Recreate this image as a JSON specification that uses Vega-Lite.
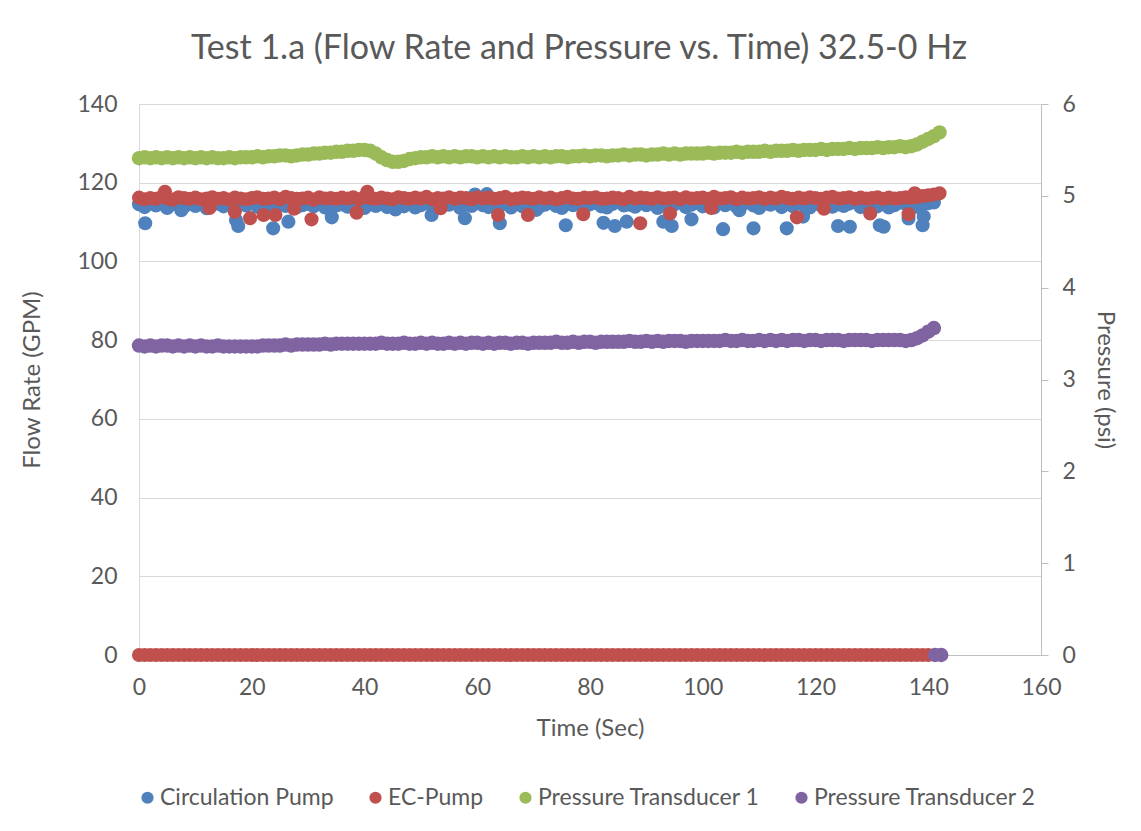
{
"$schema": "https://vega.github.io/schema/vega-lite/v6.json",
"width": 902,
"height": 551,
"autosize": "none",
"padding": {"left": 139, "top": 104, "right": 100, "bottom": 176},
"background": "white",
"title": {"text": "Test 1.a (Flow Rate and Pressure vs. Time) 32.5-0 Hz", "font": "Lato", "fontSize": 34, "fontWeight": "normal", "color": "#595959", "offset": 27, "dx": -11},
"config": {
  "view": {"stroke": null},
  "axis": {"labelFont": "Lato", "labelFontSize": 23, "labelColor": "#595959", "titleFont": "Lato", "titleFontSize": 24, "titleFontWeight": "normal", "titleColor": "#595959", "labelFlush": false},
  "legend": {"labelFont": "Lato", "labelFontSize": 23, "labelColor": "#595959", "labelLimit": 0, "symbolType": "circle", "symbolSize": 150, "orient": "none", "legendX": -3, "legendY": 682, "direction": "horizontal", "columnPadding": 30, "labelOffset": 1}
},
"data": {"values": [
{"t":0,"cp":114.5,"ec":116.2,"p1":5.41,"p2":3.37},
{"t":1,"cp":113.8,"ec":115.8,"p1":5.42,"p2":3.36},
{"t":2,"cp":114.9,"ec":116.1,"p1":5.41,"p2":3.37},
{"t":3,"cp":114.2,"ec":115.9,"p1":5.42,"p2":3.36},
{"t":4,"cp":115.2,"ec":116.4,"p1":5.41,"p2":3.37},
{"t":5,"cp":113.6,"ec":116.0,"p1":5.42,"p2":3.37},
{"t":6,"cp":114.6,"ec":115.7,"p1":5.41,"p2":3.36},
{"t":7,"cp":114.3,"ec":116.3,"p1":5.42,"p2":3.37},
{"t":8,"cp":113.9,"ec":116.1,"p1":5.41,"p2":3.36},
{"t":9,"cp":115.0,"ec":115.9,"p1":5.42,"p2":3.37},
{"t":10,"cp":114.1,"ec":116.2,"p1":5.41,"p2":3.36},
{"t":11,"cp":114.8,"ec":115.8,"p1":5.42,"p2":3.37},
{"t":12,"cp":113.5,"ec":116.0,"p1":5.41,"p2":3.36},
{"t":13,"cp":114.4,"ec":116.3,"p1":5.42,"p2":3.36},
{"t":14,"cp":114.7,"ec":115.9,"p1":5.41,"p2":3.37},
{"t":15,"cp":114.0,"ec":116.1,"p1":5.41,"p2":3.36},
{"t":16,"cp":115.1,"ec":115.7,"p1":5.42,"p2":3.36},
{"t":17,"cp":113.7,"ec":116.2,"p1":5.41,"p2":3.36},
{"t":18,"cp":114.5,"ec":116.0,"p1":5.42,"p2":3.36},
{"t":19,"cp":114.2,"ec":115.8,"p1":5.42,"p2":3.36},
{"t":20,"cp":114.9,"ec":116.1,"p1":5.42,"p2":3.36},
{"t":21,"cp":113.9,"ec":116.3,"p1":5.43,"p2":3.36},
{"t":22,"cp":114.4,"ec":115.9,"p1":5.42,"p2":3.37},
{"t":23,"cp":115.0,"ec":116.0,"p1":5.43,"p2":3.37},
{"t":24,"cp":113.6,"ec":116.2,"p1":5.43,"p2":3.37},
{"t":25,"cp":114.7,"ec":115.8,"p1":5.44,"p2":3.37},
{"t":26,"cp":114.1,"ec":116.4,"p1":5.44,"p2":3.38},
{"t":27,"cp":115.2,"ec":116.1,"p1":5.43,"p2":3.37},
{"t":28,"cp":113.8,"ec":115.9,"p1":5.44,"p2":3.38},
{"t":29,"cp":114.3,"ec":116.0,"p1":5.45,"p2":3.38},
{"t":30,"cp":114.6,"ec":116.2,"p1":5.45,"p2":3.38},
{"t":31,"cp":114.0,"ec":115.7,"p1":5.46,"p2":3.38},
{"t":32,"cp":115.1,"ec":116.3,"p1":5.46,"p2":3.38},
{"t":33,"cp":113.7,"ec":116.0,"p1":5.47,"p2":3.39},
{"t":34,"cp":114.8,"ec":116.1,"p1":5.47,"p2":3.38},
{"t":35,"cp":114.2,"ec":115.9,"p1":5.48,"p2":3.39},
{"t":36,"cp":114.5,"ec":116.2,"p1":5.48,"p2":3.39},
{"t":37,"cp":113.9,"ec":116.0,"p1":5.49,"p2":3.39},
{"t":38,"cp":115.0,"ec":116.3,"p1":5.49,"p2":3.39},
{"t":39,"cp":114.4,"ec":115.8,"p1":5.50,"p2":3.39},
{"t":40,"cp":113.6,"ec":116.4,"p1":5.50,"p2":3.39},
{"t":41,"cp":114.7,"ec":116.1,"p1":5.49,"p2":3.39},
{"t":42,"cp":114.1,"ec":115.9,"p1":5.46,"p2":3.39},
{"t":43,"cp":114.9,"ec":116.2,"p1":5.42,"p2":3.40},
{"t":44,"cp":113.8,"ec":116.0,"p1":5.39,"p2":3.39},
{"t":45,"cp":114.5,"ec":115.8,"p1":5.37,"p2":3.39},
{"t":46,"cp":115.2,"ec":116.3,"p1":5.37,"p2":3.39},
{"t":47,"cp":114.0,"ec":116.1,"p1":5.38,"p2":3.40},
{"t":48,"cp":114.6,"ec":115.9,"p1":5.40,"p2":3.39},
{"t":49,"cp":113.7,"ec":116.2,"p1":5.41,"p2":3.39},
{"t":50,"cp":114.3,"ec":116.0,"p1":5.42,"p2":3.40},
{"t":51,"cp":115.0,"ec":116.4,"p1":5.42,"p2":3.39},
{"t":52,"cp":114.2,"ec":115.8,"p1":5.43,"p2":3.40},
{"t":53,"cp":113.9,"ec":116.1,"p1":5.42,"p2":3.39},
{"t":54,"cp":114.8,"ec":116.0,"p1":5.43,"p2":3.39},
{"t":55,"cp":114.4,"ec":116.3,"p1":5.42,"p2":3.40},
{"t":56,"cp":115.1,"ec":115.9,"p1":5.43,"p2":3.39},
{"t":57,"cp":113.6,"ec":116.2,"p1":5.42,"p2":3.40},
{"t":58,"cp":114.5,"ec":116.1,"p1":5.43,"p2":3.39},
{"t":59,"cp":114.1,"ec":115.8,"p1":5.43,"p2":3.40},
{"t":60,"cp":115.0,"ec":116.3,"p1":5.42,"p2":3.40},
{"t":61,"cp":114.3,"ec":116.0,"p1":5.43,"p2":3.39},
{"t":62,"cp":113.8,"ec":116.2,"p1":5.42,"p2":3.40},
{"t":63,"cp":114.9,"ec":115.9,"p1":5.43,"p2":3.39},
{"t":64,"cp":114.2,"ec":116.1,"p1":5.42,"p2":3.40},
{"t":65,"cp":114.6,"ec":116.4,"p1":5.43,"p2":3.40},
{"t":66,"cp":113.7,"ec":115.8,"p1":5.42,"p2":3.39},
{"t":67,"cp":115.1,"ec":116.0,"p1":5.42,"p2":3.40},
{"t":68,"cp":114.0,"ec":116.2,"p1":5.43,"p2":3.40},
{"t":69,"cp":114.5,"ec":116.1,"p1":5.42,"p2":3.39},
{"t":70,"cp":114.8,"ec":115.9,"p1":5.43,"p2":3.40},
{"t":71,"cp":113.9,"ec":116.3,"p1":5.42,"p2":3.40},
{"t":72,"cp":114.4,"ec":116.0,"p1":5.43,"p2":3.40},
{"t":73,"cp":115.2,"ec":116.2,"p1":5.42,"p2":3.40},
{"t":74,"cp":114.1,"ec":115.8,"p1":5.43,"p2":3.41},
{"t":75,"cp":113.6,"ec":116.1,"p1":5.43,"p2":3.40},
{"t":76,"cp":114.7,"ec":116.4,"p1":5.42,"p2":3.40},
{"t":77,"cp":114.3,"ec":116.0,"p1":5.43,"p2":3.41},
{"t":78,"cp":115.0,"ec":115.9,"p1":5.43,"p2":3.40},
{"t":79,"cp":113.8,"ec":116.2,"p1":5.44,"p2":3.41},
{"t":80,"cp":114.5,"ec":116.1,"p1":5.43,"p2":3.41},
{"t":81,"cp":114.9,"ec":116.3,"p1":5.44,"p2":3.40},
{"t":82,"cp":114.0,"ec":115.9,"p1":5.44,"p2":3.41},
{"t":83,"cp":113.7,"ec":116.0,"p1":5.43,"p2":3.41},
{"t":84,"cp":114.6,"ec":116.2,"p1":5.44,"p2":3.41},
{"t":85,"cp":115.1,"ec":116.1,"p1":5.44,"p2":3.41},
{"t":86,"cp":114.2,"ec":115.8,"p1":5.45,"p2":3.41},
{"t":87,"cp":114.4,"ec":116.4,"p1":5.44,"p2":3.42},
{"t":88,"cp":113.9,"ec":116.0,"p1":5.45,"p2":3.41},
{"t":89,"cp":114.8,"ec":116.2,"p1":5.45,"p2":3.41},
{"t":90,"cp":114.3,"ec":116.1,"p1":5.44,"p2":3.42},
{"t":91,"cp":115.0,"ec":115.9,"p1":5.45,"p2":3.41},
{"t":92,"cp":113.6,"ec":116.3,"p1":5.45,"p2":3.42},
{"t":93,"cp":114.7,"ec":116.0,"p1":5.46,"p2":3.41},
{"t":94,"cp":114.1,"ec":116.1,"p1":5.45,"p2":3.42},
{"t":95,"cp":114.5,"ec":116.2,"p1":5.46,"p2":3.42},
{"t":96,"cp":115.2,"ec":115.8,"p1":5.45,"p2":3.42},
{"t":97,"cp":113.8,"ec":116.3,"p1":5.46,"p2":3.41},
{"t":98,"cp":114.4,"ec":116.0,"p1":5.46,"p2":3.42},
{"t":99,"cp":114.9,"ec":116.1,"p1":5.46,"p2":3.42},
{"t":100,"cp":114.0,"ec":116.2,"p1":5.46,"p2":3.42},
{"t":101,"cp":114.6,"ec":115.9,"p1":5.47,"p2":3.42},
{"t":102,"cp":113.7,"ec":116.4,"p1":5.46,"p2":3.42},
{"t":103,"cp":115.1,"ec":116.0,"p1":5.47,"p2":3.42},
{"t":104,"cp":114.3,"ec":116.1,"p1":5.47,"p2":3.43},
{"t":105,"cp":114.8,"ec":116.3,"p1":5.47,"p2":3.42},
{"t":106,"cp":113.9,"ec":115.8,"p1":5.48,"p2":3.42},
{"t":107,"cp":114.5,"ec":116.2,"p1":5.47,"p2":3.43},
{"t":108,"cp":115.0,"ec":116.0,"p1":5.48,"p2":3.42},
{"t":109,"cp":114.2,"ec":116.1,"p1":5.48,"p2":3.42},
{"t":110,"cp":113.6,"ec":116.3,"p1":5.48,"p2":3.43},
{"t":111,"cp":114.7,"ec":115.9,"p1":5.49,"p2":3.42},
{"t":112,"cp":114.4,"ec":116.2,"p1":5.48,"p2":3.43},
{"t":113,"cp":115.1,"ec":116.0,"p1":5.49,"p2":3.42},
{"t":114,"cp":113.8,"ec":116.4,"p1":5.49,"p2":3.43},
{"t":115,"cp":114.6,"ec":116.1,"p1":5.49,"p2":3.42},
{"t":116,"cp":114.0,"ec":115.9,"p1":5.50,"p2":3.43},
{"t":117,"cp":114.9,"ec":116.2,"p1":5.49,"p2":3.43},
{"t":118,"cp":114.3,"ec":116.0,"p1":5.50,"p2":3.42},
{"t":119,"cp":113.7,"ec":116.3,"p1":5.50,"p2":3.43},
{"t":120,"cp":114.8,"ec":116.1,"p1":5.50,"p2":3.43},
{"t":121,"cp":114.2,"ec":115.9,"p1":5.51,"p2":3.42},
{"t":122,"cp":115.0,"ec":116.2,"p1":5.50,"p2":3.43},
{"t":123,"cp":113.9,"ec":116.4,"p1":5.51,"p2":3.43},
{"t":124,"cp":114.5,"ec":116.0,"p1":5.51,"p2":3.43},
{"t":125,"cp":114.1,"ec":116.1,"p1":5.51,"p2":3.42},
{"t":126,"cp":114.7,"ec":116.3,"p1":5.52,"p2":3.43},
{"t":127,"cp":115.2,"ec":115.9,"p1":5.51,"p2":3.43},
{"t":128,"cp":113.8,"ec":116.2,"p1":5.52,"p2":3.43},
{"t":129,"cp":114.4,"ec":116.0,"p1":5.52,"p2":3.43},
{"t":130,"cp":114.6,"ec":116.1,"p1":5.52,"p2":3.42},
{"t":131,"cp":114.0,"ec":116.3,"p1":5.53,"p2":3.43},
{"t":132,"cp":114.9,"ec":115.9,"p1":5.52,"p2":3.43},
{"t":133,"cp":113.7,"ec":116.2,"p1":5.53,"p2":3.43},
{"t":134,"cp":114.3,"ec":116.0,"p1":5.53,"p2":3.43},
{"t":135,"cp":115.0,"ec":116.1,"p1":5.54,"p2":3.43},
{"t":136,"cp":114.5,"ec":116.3,"p1":5.53,"p2":3.42},
{"t":137,"cp":114.2,"ec":116.2,"p1":5.54,"p2":3.43},
{"t":138,"cp":113.9,"ec":116.4,"p1":5.56,"p2":3.45},
{"t":139,"cp":114.6,"ec":116.6,"p1":5.59,"p2":3.48},
{"t":140,"cp":114.8,"ec":116.8,"p1":5.62,"p2":3.52},
{"t":141,"cp":115.0,"ec":117.0,"p1":5.65,"p2":3.56},
{"t":142,"ec":117.3,"p1":5.69},
{"t":1.1,"cp":109.7},{"t":17.2,"cp":110.5},{"t":17.6,"cp":109.0},{"t":23.8,"cp":108.4},{"t":26.5,"cp":110.1},
{"t":34.2,"cp":111.2},{"t":51.9,"cp":111.8},{"t":57.8,"cp":111.0},{"t":64.0,"cp":109.7},{"t":59.6,"cp":117.0},
{"t":61.7,"cp":117.1},{"t":75.7,"cp":109.2},{"t":82.4,"cp":109.8},{"t":84.4,"cp":109.0},{"t":86.5,"cp":110.1},
{"t":93.0,"cp":110.1},{"t":94.5,"cp":109.0},{"t":98.0,"cp":110.7},{"t":103.6,"cp":108.2},{"t":109.0,"cp":108.4},
{"t":114.9,"cp":108.4},{"t":117.8,"cp":111.4},{"t":124.0,"cp":109.0},{"t":126.1,"cp":108.8},{"t":131.4,"cp":109.2},
{"t":132.1,"cp":108.8},{"t":136.5,"cp":110.9},{"t":139.0,"cp":109.2},{"t":139.2,"cp":111.4},{"t":7.5,"cp":113.0},
{"t":45.5,"cp":113.2},{"t":70.5,"cp":113.1},{"t":106.5,"cp":113.0},
{"t":4.6,"ec":117.7},{"t":17.0,"ec":112.6},{"t":19.7,"ec":111.0},{"t":22.1,"ec":111.8},{"t":24.2,"ec":111.8},
{"t":30.6,"ec":110.7},{"t":38.6,"ec":112.4},{"t":40.5,"ec":117.7},{"t":63.7,"ec":111.8},{"t":69.0,"ec":111.8},
{"t":78.8,"ec":112.0},{"t":88.9,"ec":109.7},{"t":94.2,"ec":112.2},{"t":116.7,"ec":111.2},{"t":129.7,"ec":112.2},
{"t":136.5,"ec":112.0},{"t":137.6,"ec":117.3},{"t":12.5,"ec":113.6},{"t":27.5,"ec":113.4},{"t":53.5,"ec":113.5},
{"t":101.5,"ec":113.6},{"t":121.5,"ec":113.4},
{"t":0,"ec":0},{"t":1,"ec":0},{"t":2,"ec":0},{"t":3,"ec":0},{"t":4,"ec":0},{"t":5,"ec":0},{"t":6,"ec":0},{"t":7,"ec":0},{"t":8,"ec":0},{"t":9,"ec":0},
{"t":10,"ec":0},{"t":11,"ec":0},{"t":12,"ec":0},{"t":13,"ec":0},{"t":14,"ec":0},{"t":15,"ec":0},{"t":16,"ec":0},{"t":17,"ec":0},{"t":18,"ec":0},{"t":19,"ec":0},
{"t":20,"ec":0},{"t":21,"ec":0},{"t":22,"ec":0},{"t":23,"ec":0},{"t":24,"ec":0},{"t":25,"ec":0},{"t":26,"ec":0},{"t":27,"ec":0},{"t":28,"ec":0},{"t":29,"ec":0},
{"t":30,"ec":0},{"t":31,"ec":0},{"t":32,"ec":0},{"t":33,"ec":0},{"t":34,"ec":0},{"t":35,"ec":0},{"t":36,"ec":0},{"t":37,"ec":0},{"t":38,"ec":0},{"t":39,"ec":0},
{"t":40,"ec":0},{"t":41,"ec":0},{"t":42,"ec":0},{"t":43,"ec":0},{"t":44,"ec":0},{"t":45,"ec":0},{"t":46,"ec":0},{"t":47,"ec":0},{"t":48,"ec":0},{"t":49,"ec":0},
{"t":50,"ec":0},{"t":51,"ec":0},{"t":52,"ec":0},{"t":53,"ec":0},{"t":54,"ec":0},{"t":55,"ec":0},{"t":56,"ec":0},{"t":57,"ec":0},{"t":58,"ec":0},{"t":59,"ec":0},
{"t":60,"ec":0},{"t":61,"ec":0},{"t":62,"ec":0},{"t":63,"ec":0},{"t":64,"ec":0},{"t":65,"ec":0},{"t":66,"ec":0},{"t":67,"ec":0},{"t":68,"ec":0},{"t":69,"ec":0},
{"t":70,"ec":0},{"t":71,"ec":0},{"t":72,"ec":0},{"t":73,"ec":0},{"t":74,"ec":0},{"t":75,"ec":0},{"t":76,"ec":0},{"t":77,"ec":0},{"t":78,"ec":0},{"t":79,"ec":0},
{"t":80,"ec":0},{"t":81,"ec":0},{"t":82,"ec":0},{"t":83,"ec":0},{"t":84,"ec":0},{"t":85,"ec":0},{"t":86,"ec":0},{"t":87,"ec":0},{"t":88,"ec":0},{"t":89,"ec":0},
{"t":90,"ec":0},{"t":91,"ec":0},{"t":92,"ec":0},{"t":93,"ec":0},{"t":94,"ec":0},{"t":95,"ec":0},{"t":96,"ec":0},{"t":97,"ec":0},{"t":98,"ec":0},{"t":99,"ec":0},
{"t":100,"ec":0},{"t":101,"ec":0},{"t":102,"ec":0},{"t":103,"ec":0},{"t":104,"ec":0},{"t":105,"ec":0},{"t":106,"ec":0},{"t":107,"ec":0},{"t":108,"ec":0},{"t":109,"ec":0},
{"t":110,"ec":0},{"t":111,"ec":0},{"t":112,"ec":0},{"t":113,"ec":0},{"t":114,"ec":0},{"t":115,"ec":0},{"t":116,"ec":0},{"t":117,"ec":0},{"t":118,"ec":0},{"t":119,"ec":0},
{"t":120,"ec":0},{"t":121,"ec":0},{"t":122,"ec":0},{"t":123,"ec":0},{"t":124,"ec":0},{"t":125,"ec":0},{"t":126,"ec":0},{"t":127,"ec":0},{"t":128,"ec":0},{"t":129,"ec":0},
{"t":130,"ec":0},{"t":131,"ec":0},{"t":132,"ec":0},{"t":133,"ec":0},{"t":134,"ec":0},{"t":135,"ec":0},{"t":136,"ec":0},{"t":137,"ec":0},{"t":138,"ec":0},{"t":139,"ec":0},
{"t":140,"ec":0},
{"t":141.2,"p2":0},{"t":142.3,"p2":0}
]},
"encoding": {
  "x": {"field": "t", "type": "quantitative", "scale": {"domain": [0, 160], "nice": false},
        "axis": {"values": [0,20,40,60,80,100,120,140,160], "title": "Time (Sec)", "grid": false, "ticks": false, "domainColor": "#bfbfbf", "labelPadding": 21, "titlePadding": 17}}
},
"layer": [
  {"layer": [
    {"mark": {"type": "circle", "size": 200, "opacity": 1},
     "encoding": {
       "y": {"field": "cp", "type": "quantitative", "scale": {"domain": [0, 140], "nice": false},
             "axis": {"title": "Flow Rate (GPM)", "values": [0,20,40,60,80,100,120,140], "grid": true, "gridColor": "#d9d9d9", "domainColor": "#d9d9d9", "ticks": false, "labelPadding": 22, "titlePadding": 32}},
       "color": {"datum": "Circulation Pump", "type": "nominal",
                 "scale": {"domain": ["Circulation Pump", "EC-Pump", "Pressure Transducer 1", "Pressure Transducer 2"], "range": ["#4f81bd", "#c0504d", "#9bbb59", "#8064a2"]},
                 "legend": {"title": null}}
     }},
    {"mark": {"type": "circle", "size": 200, "opacity": 1},
     "encoding": {
       "y": {"field": "ec", "type": "quantitative", "scale": {"domain": [0, 140], "nice": false},
             "axis": {"title": "Flow Rate (GPM)", "values": [0,20,40,60,80,100,120,140], "grid": true, "gridColor": "#d9d9d9", "domainColor": "#d9d9d9", "ticks": false, "labelPadding": 22, "titlePadding": 32}},
       "color": {"datum": "EC-Pump", "type": "nominal"}
     }}
  ]},
  {"layer": [
    {"mark": {"type": "circle", "size": 210, "opacity": 1},
     "encoding": {
       "y": {"field": "p1", "type": "quantitative", "scale": {"domain": [0, 6], "nice": false},
             "axis": {"title": "Pressure (psi)", "orient": "right", "values": [0,1,2,3,4,5,6], "grid": false, "domainColor": "#bfbfbf", "ticks": true, "tickColor": "#bfbfbf", "tickSize": 7, "labelPadding": 14, "titlePadding": 17}},
       "color": {"datum": "Pressure Transducer 1", "type": "nominal"}
     }},
    {"mark": {"type": "circle", "size": 210, "opacity": 1},
     "encoding": {
       "y": {"field": "p2", "type": "quantitative", "scale": {"domain": [0, 6], "nice": false},
             "axis": {"title": "Pressure (psi)", "orient": "right", "values": [0,1,2,3,4,5,6], "grid": false, "domainColor": "#bfbfbf", "ticks": true, "tickColor": "#bfbfbf", "tickSize": 7, "labelPadding": 14, "titlePadding": 17}},
       "color": {"datum": "Pressure Transducer 2", "type": "nominal"}
     }}
  ]}
],
"resolve": {"scale": {"y": "independent"}}
}
